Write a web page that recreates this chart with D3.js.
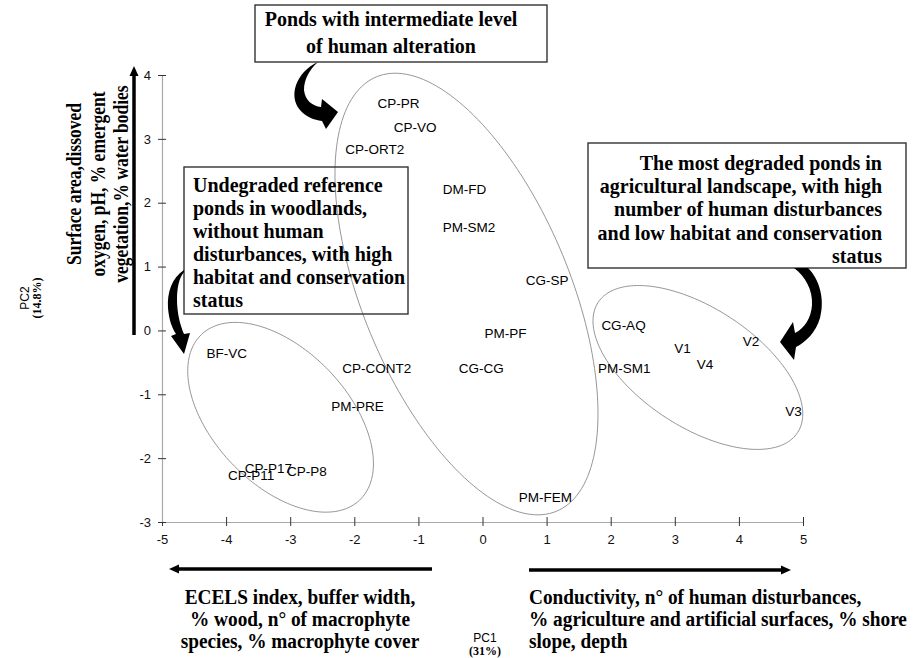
<!DOCTYPE html>
<html><head><meta charset="utf-8">
<script src="https://cdn.jsdelivr.net/npm/d3@7"></script>
<style>body{margin:0;background:#fff}svg{display:block}</style>
</head><body><svg id="c" width="917" height="658"></svg>
<script>
// ---- data ----
const sites = ["CP-PR","CP-VO","CP-ORT2","DM-FD","PM-SM2","CG-SP","PM-PF","CG-CG","CP-CONT2","BF-VC","PM-PRE","CP-P17","CP-P11","CP-P8","PM-FEM","CG-AQ","PM-SM1","V1","V4","V2","V3"];
const pc1 = [-1.31,-1.05,-1.68,-0.28,-0.21,1.01,0.36,-0.02,-1.65,-3.99,-1.95,-3.34,-3.61,-2.74,0.98,2.20,2.21,3.12,3.47,4.19,4.85];
const pc2 = [3.56,3.19,2.84,2.21,1.62,0.79,-0.04,-0.59,-0.59,-0.35,-1.18,-2.15,-2.26,-2.20,-2.61,0.09,-0.59,-0.28,-0.53,-0.17,-1.26];
const xTicks = [-5,-4,-3,-2,-1,0,1,2,3,4,5];
const yTicks = [-3,-2,-1,0,1,2,3,4];
// group envelopes (ellipses in PC units)
const groupCx = [-3.15,-0.25,3.36];
const groupCy = [-1.36,0.57,-0.58];
const groupA = [1.79,3.68,1.86];
const groupB = [1.05,1.62,0.93];
const groupAngle = [-46.5,-67.6,-33.3];
// annotation texts
const boxTop = ["Ponds with intermediate level","of human alteration"];
const boxLeft = ["Undegraded reference","ponds in woodlands,","without human","disturbances, with high","habitat and conservation","status"];
const boxRight = ["The most degraded ponds in","agricultural landscape, with high","number of human disturbances","and low habitat and conservation","status"];
const pc2Text = ["Surface area,dissoved","oxygen, pH, % emergent","vegetation,% water bodies"];
const pc1Left = ["ECELS index, buffer width,","% wood, n\u00b0 of macrophyte","species, % macrophyte cover"];
const pc1Right = ["Conductivity, n\u00b0 of human disturbances,","% agriculture and artificial surfaces, % shore","slope, depth"];

// ---- drawing ----
const svg = d3.select("#c");
const SANS = "'Liberation Sans', Arial, sans-serif";
const SERIF = "'Liberation Serif', 'Times New Roman', serif";
const x = d3.scaleLinear().domain([-5,5]).range([162,803]);
const y = d3.scaleLinear().domain([-3,4]).range([522,75]);

// axes
const gx = svg.append("g").attr("transform",`translate(0,${y(-3)})`)
  .call(d3.axisBottom(x).tickValues(xTicks).tickSizeInner(4).tickSizeOuter(0).tickPadding(9).tickFormat(d=>String(d)));
gx.select(".domain").attr("stroke","#aaa").attr("stroke-width",1.2);
gx.selectAll(".tick line").attr("y1",-5).attr("y2",4).attr("stroke","#333");
gx.selectAll("text").attr("font-family",SANS).attr("font-size",13).attr("fill","#111");

const gy = svg.append("g").attr("transform",`translate(${x(-5)},0)`)
  .call(d3.axisLeft(y).tickValues(yTicks).tickSizeInner(4).tickSizeOuter(0).tickPadding(7).tickFormat(d=>String(d)));
gy.select(".domain").attr("stroke","#aaa").attr("stroke-width",1.2);
gy.selectAll(".tick line").attr("x1",-4).attr("x2",4).attr("stroke","#333");
gy.selectAll("text").attr("font-family",SANS).attr("font-size",13).attr("fill","#111");

// ellipses
const line = d3.line().curve(d3.curveLinearClosed);
groupCx.forEach((cx,i)=>{
  const th = groupAngle[i]*Math.PI/180, pts=[];
  for(let k=0;k<180;k++){
    const t = k/180*2*Math.PI;
    const ex = groupA[i]*Math.cos(t), ey = groupB[i]*Math.sin(t);
    pts.push([x(cx + ex*Math.cos(th) - ey*Math.sin(th)), y(groupCy[i] + ex*Math.sin(th) + ey*Math.cos(th))]);
  }
  svg.append("path").attr("d",line(pts)).attr("fill","none").attr("stroke","#8a8a8a").attr("stroke-width",0.9);
});

// site labels
svg.append("g").selectAll("text").data(sites).join("text")
  .attr("x",(d,i)=>x(pc1[i])).attr("y",(d,i)=>y(pc2[i])).attr("dy","0.36em")
  .attr("text-anchor","middle").attr("font-family",SANS).attr("font-size",13.5).attr("fill","#000")
  .text(d=>d);

// boxes
function box(x0,y0,x1,y1){
  svg.append("rect").attr("x",x0).attr("y",y0).attr("width",x1-x0).attr("height",y1-y0)
    .attr("fill","none").attr("stroke","#333").attr("stroke-width",1.4);
}
function lines(arr,xp,y0,dy,anchor,size,sy){
  arr.forEach((s,i)=>{
    svg.append("text").attr("transform",`translate(${xp},${y0+i*dy}) scale(1,${sy})`)
      .attr("font-family",SERIF).attr("font-weight","bold").attr("font-size",size)
      .attr("fill","#000").attr("text-anchor",anchor).text(s);
  });
}
box(255,5,547,62);
lines(boxTop,391,26,27,"middle",20,1.05);
box(184,167,408,314);
lines(boxLeft,193,192,23,"start",20,1.05);
box(588,143,906,268);
lines(boxRight,882,170,23.2,"end",20,1.05);

// rotated PC2 description
pc2Text.forEach((s,i)=>{
  svg.append("text").attr("transform",`translate(${81+i*23.5},184) rotate(-90) scale(1,1.2)`)
    .attr("font-family",SERIF).attr("font-weight","bold").attr("font-size",17.5)
    .attr("text-anchor","middle").text(s);
});
// axis titles
svg.append("text").attr("transform","translate(29,298) rotate(-90)").attr("text-anchor","middle")
  .attr("font-family",SANS).attr("font-size",12).text("PC2");
svg.append("text").attr("transform","translate(41,298) rotate(-90)").attr("text-anchor","middle")
  .attr("font-family",SERIF).attr("font-size",12).attr("font-weight","bold").text("(14.8%)");
svg.append("text").attr("x",485).attr("y",642).attr("text-anchor","middle")
  .attr("font-family",SANS).attr("font-size",12).text("PC1");
svg.append("text").attr("x",485).attr("y",655).attr("text-anchor","middle")
  .attr("font-family",SERIF).attr("font-size",12).attr("font-weight","bold").text("(31%)");

// bottom descriptions
lines(pc1Left,300,604,22,"middle",19.3,1.04);
lines(pc1Right,529,604,22,"start",19.3,1.04);

// straight arrows
function straightArrow(x1,y1,x2,y2){
  const a = Math.atan2(y2-y1,x2-x1), L=10, Wd=4.5;
  const bx = x2-L*Math.cos(a), by = y2-L*Math.sin(a);
  svg.append("line").attr("x1",x1).attr("y1",y1).attr("x2",bx).attr("y2",by).attr("stroke","#000").attr("stroke-width",3.5);
  svg.append("path").attr("d",`M${x2},${y2}L${bx+Wd*Math.sin(a)},${by-Wd*Math.cos(a)}L${bx-Wd*Math.sin(a)},${by+Wd*Math.cos(a)}Z`).attr("fill","#000");
}
straightArrow(432,569,169,569);
straightArrow(529,570,791,570);
straightArrow(134,335,134,66);

// curved arrows
const curved = [
  "M318,62 C296,72 288,96 300,110 C306,117 314,120 322,121 L326,129 L338,112 L322,99 L321,107 C312,106 305,100 304,90 C304,80 309,70 318,62 Z",
  "M184,270 C172,278 167,292 168,308 C169,320 172,328 176,334 L171,336 L184,354 L190,333 L184,334 C180,325 177,312 177,300 C177,288 179,278 184,272 Z",
  "M808,268 C820,280 825,300 820,318 C816,332 806,342 796,347 L794,360 L780,342 L793,322 L795,333 C805,328 811,318 812,305 C813,290 805,276 794,268 Z"
];
curved.forEach(d=>svg.append("path").attr("d",d).attr("fill","#000"));
</script>
</body></html>
